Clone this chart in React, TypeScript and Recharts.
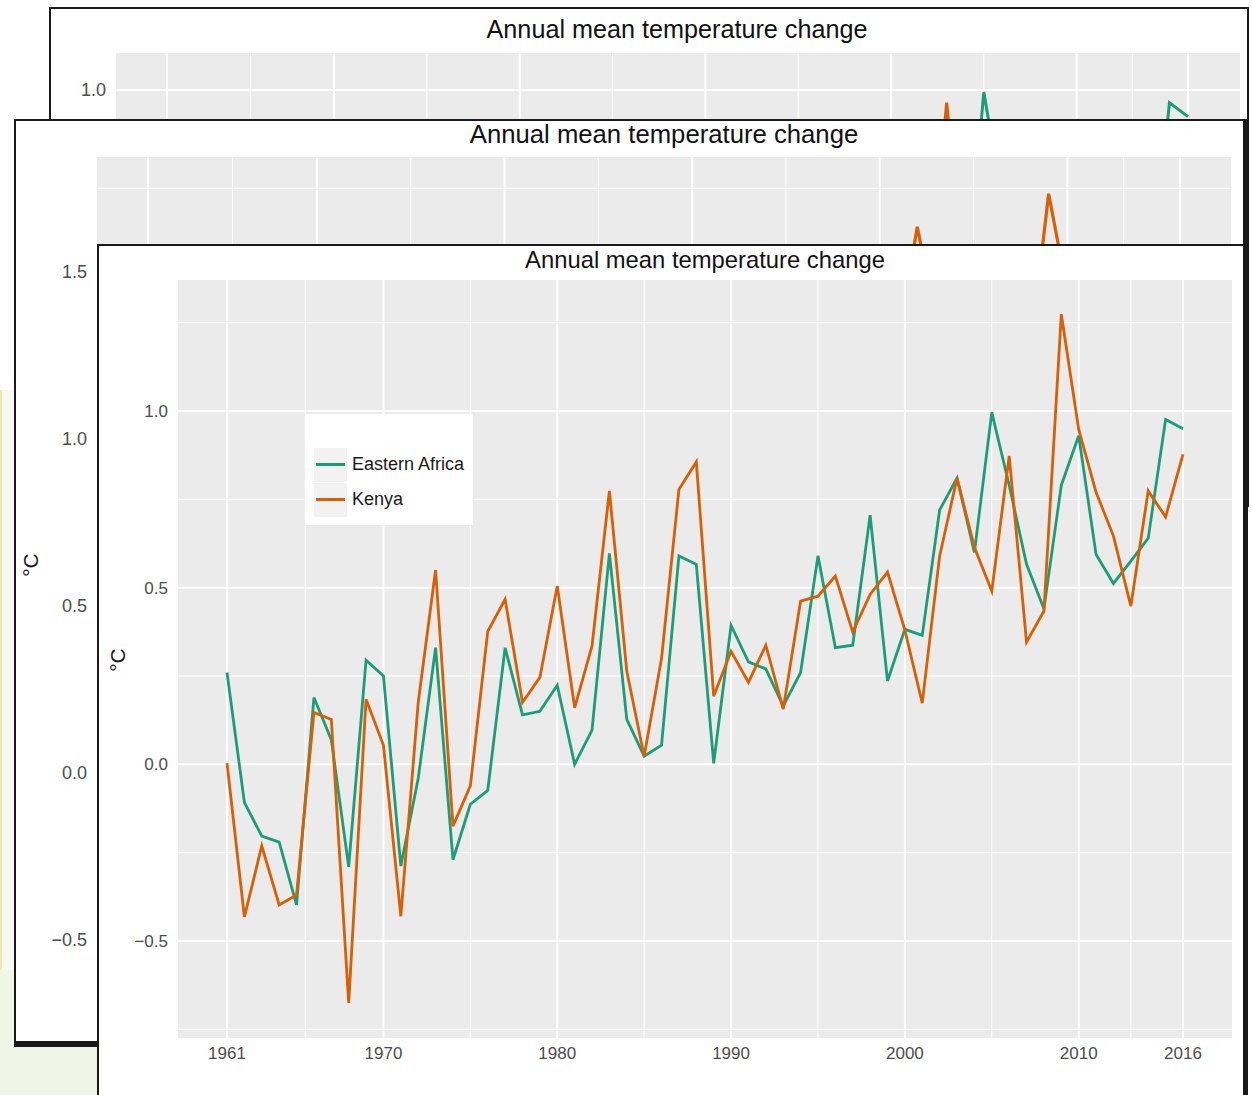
import { LineChart, Line, XAxis, YAxis, CartesianGrid, Legend } from 'recharts';

const W = 1251;
const H = 1095;
const FONT = "'Liberation Sans', Arial, Helvetica, sans-serif";
const GREEN = '#1b9e77';
const ORANGE = '#d95f02';

// years on the x axis
const years = [
  1961, 1962, 1963, 1964, 1965, 1966, 1967, 1968, 1969, 1970,
  1971, 1972, 1973, 1974, 1975, 1976, 1977, 1978, 1979, 1980,
  1981, 1982, 1983, 1984, 1985, 1986, 1987, 1988, 1989, 1990,
  1991, 1992, 1993, 1994, 1995, 1996, 1997, 1998, 1999, 2000,
  2001, 2002, 2003, 2004, 2005, 2006, 2007, 2008, 2009, 2010,
  2011, 2012, 2013, 2014, 2015, 2016,
];

const easternAfrica = [
  0.26, -0.108, -0.203, -0.22, -0.398, 0.189, 0.07, -0.29, 0.295, 0.25,
  -0.288, -0.04, 0.33, -0.27, -0.113, -0.074, 0.33, 0.14, 0.15, 0.224,
  0.0, 0.097, 0.597, 0.127, 0.023, 0.054, 0.59, 0.566, 0.003, 0.393,
  0.29, 0.27, 0.165, 0.26, 0.59, 0.33, 0.337, 0.705, 0.236, 0.382,
  0.365, 0.72, 0.81, 0.6, 0.996, 0.79, 0.566, 0.44, 0.79, 0.93,
  0.594, 0.512, 0.575, 0.64, 0.976, 0.95,
];

const kenya = [
  0.003, -0.432, -0.231, -0.398, -0.37, 0.147, 0.127, -0.675, 0.184, 0.054,
  -0.43, 0.175, 0.55, -0.175, -0.061, 0.376, 0.467, 0.175, 0.246, 0.505,
  0.16, 0.335, 0.774, 0.263, 0.023, 0.3, 0.778, 0.856, 0.193, 0.32,
  0.232, 0.337, 0.156, 0.462, 0.476, 0.533, 0.374, 0.481, 0.544, 0.38,
  0.173, 0.59, 0.81, 0.614, 0.49, 0.873, 0.346, 0.434, 1.274, 0.948,
  0.77, 0.646, 0.448, 0.774, 0.7, 0.877,
];

// only the peaks of the hidden windows are visible
const backYears = [2002, 2003, 2004];
const backOrange = [0.6, 0.976, 0.62];
const midYears = [2001, 2002, 2003, 2008, 2009, 2010];
const midOrange = [1.3, 1.635, 1.35, 1.25, 1.734, 1.44];

const xTicks = [1961, 1970, 1980, 1990, 2000, 2010, 2016];
const xMinor = [1965.5, 1975, 1985, 1995, 2005, 2013];

const toPoints = (xs: number[], ys: number[]) => xs.map((year, i) => ({ year, value: ys[i] }));

const fmt = (v: number) => (v < 0 ? '\u2212' + Math.abs(v).toFixed(1) : v.toFixed(1));

type Series = { name: string; color: string; data: { year: number; value: number }[] };

type ChartProps = {
  panel: { left: number; right: number; top: number; bottom: number };
  xDomain: [number, number];
  yDomain: [number, number];
  yTicks: number[];
  yMinor: number[];
  tickFont: number;
  lineWidth: number;
  series: Series[];
  legend?: boolean;
  showX?: boolean;
};

const Y_W = 60;
const X_H = 40;

function LegendBox({ series }: { series: Series[] }) {
  return (
    <div style={{ background: '#fff', width: 168, height: 111, paddingTop: 33, boxSizing: 'border-box', fontFamily: FONT }}>
      {series.map((s) => (
        <div key={s.name} style={{ display: 'flex', alignItems: 'center', height: 35, marginLeft: 9 }}>
          <div style={{ width: 33, height: 34, background: '#f2f2f2', display: 'flex', alignItems: 'center', justifyContent: 'center' }}>
            <div style={{ width: 29, height: 3, background: s.color }} />
          </div>
          <span style={{ marginLeft: 5, fontSize: 18, color: '#1a1a1a' }}>{s.name}</span>
        </div>
      ))}
    </div>
  );
}

function Chart({ panel, xDomain, yDomain, yTicks, yMinor, tickFont, lineWidth, series, legend, showX }: ChartProps) {
  const tick = { fill: '#4d4d4d', fontSize: tickFont, fontFamily: FONT };
  return (
    <LineChart
      width={W}
      height={H}
      margin={{ left: panel.left - Y_W, right: W - panel.right, top: panel.top, bottom: H - panel.bottom - X_H }}
    >
      <CartesianGrid fill="#ebebeb" stroke="#ffffff" strokeWidth={1} horizontalValues={yMinor} verticalValues={xMinor} />
      <CartesianGrid fill="none" stroke="#ffffff" strokeWidth={2} horizontalValues={yTicks} verticalValues={xTicks} />
      <XAxis
        type="number"
        dataKey="year"
        domain={xDomain}
        ticks={xTicks}
        interval={0}
        allowDataOverflow
        axisLine={false}
        tickLine={false}
        tickSize={0}
        tickMargin={9}
        height={X_H}
        tick={showX ? tick : () => <g />}
      />
      <YAxis
        type="number"
        domain={yDomain}
        ticks={yTicks}
        interval={0}
        allowDataOverflow
        axisLine={false}
        tickLine={false}
        tickSize={0}
        tickMargin={10}
        width={Y_W}
        tick={tick}
        tickFormatter={fmt}
      />
      {legend && (
        <Legend
          layout="horizontal"
          verticalAlign="middle"
          align="center"
          wrapperStyle={{ left: 305, top: 414, width: 168, height: 111 }}
          content={() => <LegendBox series={series} />}
        />
      )}
      {series.map((s) => (
        <Line
          key={s.name}
          data={s.data}
          dataKey="value"
          name={s.name}
          type="linear"
          stroke={s.color}
          strokeWidth={lineWidth}
          dot={false}
          activeDot={false}
          isAnimationActive={false}
        />
      ))}
    </LineChart>
  );
}

type Borders = { t: number; r: number; b: number; l: number };

function Frame({ x, y, w, h, b, z, children }: { x: number; y: number; w: number; h: number; b: Borders; z: number; children: any }) {
  return (
    <div
      style={{
        position: 'absolute',
        left: x,
        top: y,
        width: w,
        height: h,
        boxSizing: 'border-box',
        borderStyle: 'solid',
        borderColor: '#1a1a1a',
        borderWidth: `${b.t}px ${b.r}px ${b.b}px ${b.l}px`,
        background: '#fff',
        overflow: 'hidden',
        zIndex: z,
      }}
    >
      <div style={{ position: 'absolute', left: -(x + b.l), top: -(y + b.t), width: W, height: H }}>{children}</div>
    </div>
  );
}

function Title({ cx, cy, size }: { cx: number; cy: number; size: number }) {
  return (
    <div
      style={{
        position: 'absolute',
        left: cx,
        top: cy,
        transform: 'translate(-50%, -50%)',
        whiteSpace: 'nowrap',
        fontFamily: FONT,
        fontSize: size,
        lineHeight: 1,
        color: '#111',
      }}
    >
      Annual mean temperature change
    </div>
  );
}

function UnitLabel({ cx, cy }: { cx: number; cy: number }) {
  return (
    <div
      style={{
        position: 'absolute',
        left: cx,
        top: cy,
        transform: 'translate(-50%, -50%) rotate(-90deg)',
        whiteSpace: 'nowrap',
        fontFamily: FONT,
        fontSize: 21,
        lineHeight: 1,
        color: '#1a1a1a',
      }}
    >
      °C
    </div>
  );
}

export default function App() {
  const eaSeries = { name: 'Eastern Africa', color: GREEN, data: toPoints(years, easternAfrica) };
  const kenyaSeries = { name: 'Kenya', color: ORANGE, data: toPoints(years, kenya) };

  return (
    <div style={{ position: 'absolute', left: 0, top: 0, width: W, height: H, overflow: 'hidden', background: '#fff' }}>
      <div style={{ position: 'absolute', left: 0, top: 960, width: 100, height: 135, background: '#eff5e7' }} />
      <div style={{ position: 'absolute', left: 0, top: 390, width: 14, height: 580, background: '#f7faf2' }} />
      <div style={{ position: 'absolute', left: 0, top: 390, width: 2, height: 580, background: '#f3e6b0' }} />

      {/* back window */}
      <Frame x={49} y={7} w={1200} h={500} b={{ t: 2, r: 2, b: 2, l: 2 }} z={1}>
        <Title cx={677} cy={30} size={25.2} />
        <Chart
          panel={{ left: 116, right: 1240, top: 53, bottom: 839 }}
          xDomain={[1958.255, 2018.8]}
          yDomain={[-0.4, 1.069]}
          yTicks={[0.5, 1]}
          yMinor={[0.75]}
          tickFont={18}
          lineWidth={3}
          series={[
            { name: 'Eastern Africa', color: GREEN, data: toPoints(years, easternAfrica) },
            { name: 'Other', color: ORANGE, data: toPoints(backYears, backOrange) },
          ]}
        />
      </Frame>

      {/* middle window */}
      <Frame x={14} y={119} w={1234} h={928} b={{ t: 2, r: 5, b: 6, l: 2 }} z={2}>
        <Title cx={664} cy={135} size={25.7} />
        <UnitLabel cx={30} cy={565} />
        <Chart
          panel={{ left: 97, right: 1231, top: 157, bottom: 980 }}
          xDomain={[1958.28, 2018.72]}
          yDomain={[-0.62, 1.844]}
          yTicks={[-0.5, 0, 0.5, 1, 1.5]}
          yMinor={[-0.25, 0.25, 0.75, 1.25, 1.75]}
          tickFont={18}
          lineWidth={3.2}
          series={[{ name: 'Other', color: ORANGE, data: toPoints(midYears, midOrange) }]}
        />
      </Frame>

      {/* front window */}
      <Frame x={97} y={244} w={1151} h={900} b={{ t: 2, r: 5, b: 2, l: 2 }} z={3}>
        <Title cx={705} cy={260} size={23.8} />
        <UnitLabel cx={117} cy={660} />
        <Chart
          panel={{ left: 178, right: 1232, top: 280, bottom: 1038 }}
          xDomain={[1958.18, 2018.82]}
          yDomain={[-0.7746, 1.3708]}
          yTicks={[-0.5, 0, 0.5, 1]}
          yMinor={[-0.75, -0.25, 0.25, 0.75, 1.25]}
          tickFont={17}
          lineWidth={2.8}
          series={[eaSeries, kenyaSeries]}
          legend
          showX
        />
      </Frame>
    </div>
  );
}
